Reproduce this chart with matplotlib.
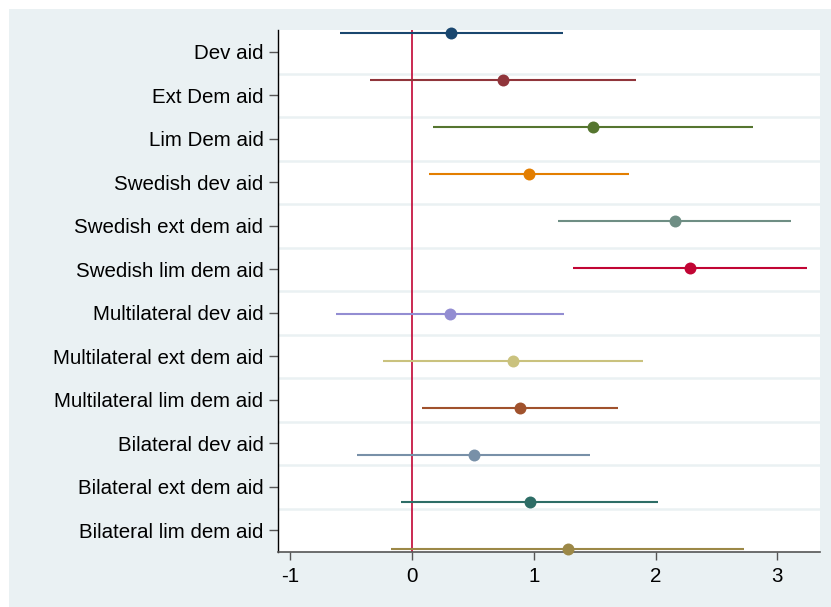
import matplotlib
matplotlib.use("Agg")
import matplotlib.pyplot as plt
from matplotlib.patches import Rectangle
import numpy as np

labels = ["Dev aid", "Ext Dem aid", "Lim Dem aid", "Swedish dev aid",
          "Swedish ext dem aid", "Swedish lim dem aid", "Multilateral dev aid",
          "Multilateral ext dem aid", "Multilateral lim dem aid",
          "Bilateral dev aid", "Bilateral ext dem aid", "Bilateral lim dem aid"]
coef = [0.32, 0.75, 1.49, 0.96, 2.16, 2.28, 0.31, 0.83, 0.89, 0.51, 0.97, 1.28]
ci_low = [-0.59, -0.345, 0.17, 0.14, 1.20, 1.325, -0.625, -0.238, 0.08, -0.45, -0.09, -0.17]
ci_high = [1.24, 1.84, 2.80, 1.78, 3.11, 3.24, 1.245, 1.895, 1.69, 1.46, 2.02, 2.73]
colors = ["#1A476F", "#90353B", "#55752F", "#E37E00", "#6E8E84", "#C10534",
          "#938DD2", "#CAC27E", "#A0522D", "#7890A8", "#2D6D66", "#9C8847"]
xticks = [-1, 0, 1, 2, 3]

plt.rcParams['font.family'] = ['Liberation Sans', 'DejaVu Sans']

W, H = 831, 607
fig = plt.figure(figsize=(W / 100, H / 100), dpi=100)
fig.patch.set_facecolor("white")
fig.patches.append(Rectangle((9 / W, 0), 1 - 9 / W, 1 - 9 / H, transform=fig.transFigure,
                             facecolor="#EAF1F3", edgecolor="none", zorder=-10))

ax = fig.add_axes([278 / W, (H - 552) / H, (820 - 278) / W, (552 - 30) / H])
ax.set_zorder(5)
ax.set_facecolor("white")

k = len(labels)
pos = np.arange(1, k + 1)
for i in range(k):
    y = pos[i] + (i + 1 - (k + 1) / 2) / (k + 1)
    ax.plot([ci_low[i], ci_high[i]], [y, y], color=colors[i], lw=1.5,
            solid_capstyle="butt", zorder=3, clip_on=False)
    ax.plot(coef[i], y, "o", color=colors[i], markersize=8.6, zorder=4,
            markeredgewidth=0, clip_on=False)

for g in np.arange(1.5, k, 1.0):
    ax.axhline(g, color="#EAF1F3", lw=1.8, zorder=1)

ax.axvline(0, color="#C10534", lw=1.2, zorder=2)

ax.set_xlim(-1.099, 3.35)
ax.set_ylim(k + 0.5, 0.5)
ax.set_yticks(pos)
ax.set_yticklabels(labels, fontsize=14.8)
ax.set_xticks(xticks)
ax.set_xticklabels([str(t) for t in xticks], fontsize=14.8)

for s in ["top", "right"]:
    ax.spines[s].set_visible(False)
ax.spines["left"].set_color("#000000")
ax.spines["left"].set_linewidth(1.0)
ax.spines["bottom"].set_color("#555555")
ax.spines["bottom"].set_linewidth(1.2)
ax.tick_params(axis="y", length=6.5, width=1.0, color="#555555", pad=4)
ax.tick_params(axis="x", length=5.5, width=1.0, color="#555555", pad=5)

fig.savefig("out.png", dpi=100)
